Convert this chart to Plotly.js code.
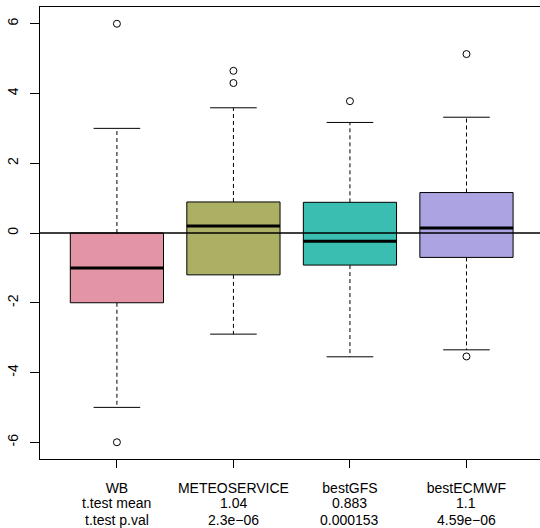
<!DOCTYPE html>
<html>
<head>
<meta charset="utf-8">
<script src="https://cdn.plot.ly/plotly-3.0.1.min.js"></script>
<style>html,body{margin:0;padding:0;overflow:hidden;background:#fff}</style>
</head>
<body>
<div id="chart"></div>
<script>
// ---- data ----
const categories = ['WB', 'METEOSERVICE', 'bestGFS', 'bestECMWF'];
const q1 = [-2.0, -1.2, -0.92, -0.70];
const medians = [-1.0, 0.2, -0.24, 0.14];
const q3 = [0.0, 0.89, 0.88, 1.16];
const lowerWhisker = [-5.0, -2.9, -3.55, -3.35];
const upperWhisker = [3.0, 3.59, 3.17, 3.32];
const outliers = [[6.0, -6.0], [4.3, 4.65], [3.78], [5.13, -3.54]];
const statRowNames = ['t.test mean', 't.test p.val'];
const tTestMean = ['', '1.04', '0.883', '1.1'];
const tTestPval = ['', '2.3e\u221206', '0.000153', '4.59e\u221206'];
const yTickVals = [-6, -4, -2, 0, 2, 4, 6];
const yTickText = ['-6', '-4', '-2', '0', '2', '4', '6'];
const fillColors = ['#E495A5', '#ABB065', '#39BEB1', '#ACA4E2'];

// ---- build traces ----
const pos = categories.map((_, i) => i + 1);
const boxW = 0.8;
const traces = [];
categories.forEach((c, i) => {
  const x = pos[i];
  traces.push({
    type: 'scatter', mode: 'lines', hoverinfo: 'skip', showlegend: false,
    x: [x, x, null, x, x],
    y: [q3[i], upperWhisker[i], null, q1[i], lowerWhisker[i]],
    line: {color: '#000', width: 1, dash: '4px,3px'}
  });
  traces.push({
    type: 'scatter', mode: 'lines', hoverinfo: 'skip', showlegend: false,
    x: [x - boxW / 4, x + boxW / 4, null, x - boxW / 4, x + boxW / 4],
    y: [upperWhisker[i], upperWhisker[i], null, lowerWhisker[i], lowerWhisker[i]],
    line: {color: '#000', width: 1}
  });
  traces.push({
    type: 'box', name: c, showlegend: false,
    x: [x], q1: [q1[i]], median: [medians[i]], q3: [q3[i]],
    lowerfence: [q1[i]], upperfence: [q3[i]],
    width: boxW, boxpoints: false, whiskerwidth: 0,
    fillcolor: fillColors[i],
    line: {color: '#000', width: 1}
  });
  traces.push({
    type: 'scatter', mode: 'lines', hoverinfo: 'skip', showlegend: false,
    x: [x - boxW / 2, x + boxW / 2], y: [medians[i], medians[i]],
    line: {color: '#000', width: 3}
  });
  traces.push({
    type: 'scatter', mode: 'markers', showlegend: false,
    x: outliers[i].map(() => x), y: outliers[i],
    marker: {symbol: 'circle-open', size: 7, color: '#000', line: {width: 1, color: '#000'}}
  });
});

const font = {family: '"Liberation Sans", Arial, Helvetica, sans-serif', size: 14, color: '#000'};

// second and third label rows under each category
const annotations = [];
categories.forEach((c, i) => {
  const rows = i === 0 ? statRowNames : [tTestMean[i], tTestPval[i]];
  rows.forEach((t, r) => {
    annotations.push({
      x: pos[i], xref: 'x', y: 0, yref: 'paper', yanchor: 'middle', xanchor: 'center',
      yshift: -44 - r * 16.5, text: t, showarrow: false, font: font, borderpad: 0
    });
  });
});

const layout = {
  width: 540, height: 528,
  margin: {l: 40, r: 0, t: 7, b: 69, pad: 0},
  paper_bgcolor: '#fff', plot_bgcolor: '#fff',
  font: font,
  showlegend: false,
  xaxis: {
    range: [0.34, 4.631], showgrid: false, zeroline: false,
    showline: true, mirror: true, linecolor: '#000', linewidth: 1,
    tickmode: 'array', tickvals: pos, ticktext: categories,
    ticks: 'outside', ticklen: 8, tickcolor: '#000', tickwidth: 1,
    ticklabelstandoff: 8, tickfont: font
  },
  yaxis: {
    range: [-6.48, 6.48], showgrid: false, zeroline: false,
    showline: true, mirror: false, linecolor: '#000', linewidth: 1,
    tickmode: 'array', tickvals: yTickVals, ticktext: yTickText,
    ticks: 'outside', ticklen: 9, tickcolor: '#000', tickwidth: 1,
    tickangle: -90, ticklabelstandoff: 6, tickfont: font
  },
  annotations: annotations,
  shapes: [{
    type: 'line', xref: 'paper', x0: 0, x1: 1, yref: 'y', y0: 0, y1: 0,
    layer: 'above', line: {color: '#000', width: 1.5}
  }]
};

Plotly.newPlot('chart', traces, layout, {staticPlot: true, displayModeBar: false});
</script>
</body>
</html>
